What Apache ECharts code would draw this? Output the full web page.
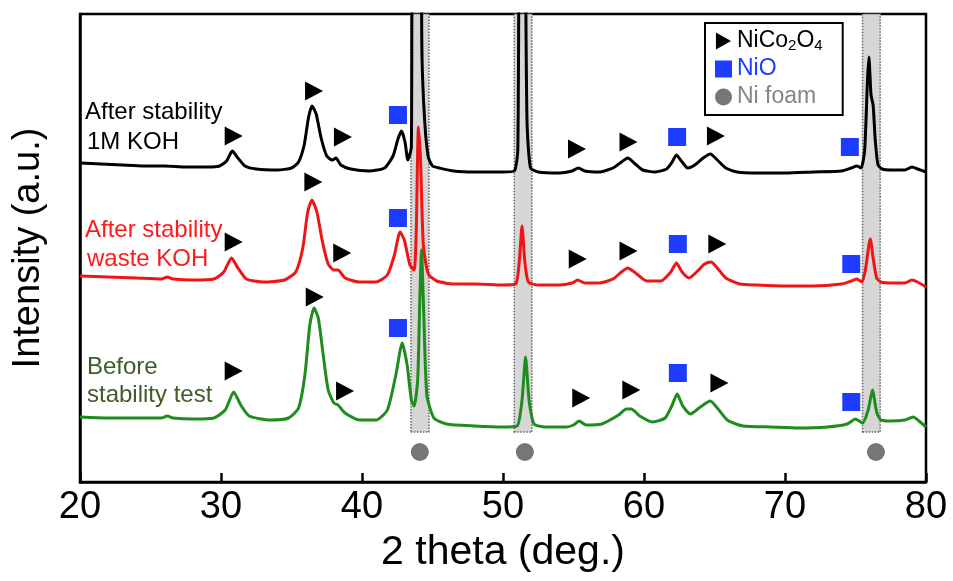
<!DOCTYPE html>
<html>
<head>
<meta charset="utf-8">
<script src="https://cdn.jsdelivr.net/npm/echarts@6/dist/echarts.min.js"></script>
<style>
html,body{margin:0;padding:0;background:#fff;}
#chart{width:953px;height:581px;}
</style>
</head>
<body>
<div id="chart"></div>
<script>
// ---- data (2 theta in degrees, intensity in arbitrary units) ----
const xTicks = [20, 30, 40, 50, 60, 70, 80];

const blackX = [20,21.5,23,24.5,26,27.5,29,29.9,30.4,30.8,31.2,31.7,32.5,34,35,35.5,35.9,36.2,36.45,36.75,37.1,37.5,37.9,38.15,38.5,39.2,40.5,41.6,42.2,42.55,42.8,43.05,43.25,43.5,43.62,44.1,44.25,44.45,44.7,45.0,45.5,46.5,48,50,50.8,51.05,51.2,51.5,51.7,51.95,52.5,54,54.9,55.35,55.8,56.8,57.8,58.4,58.85,59.3,59.9,60.8,61.6,62.0,62.3,62.65,63.1,63.6,64.2,64.7,65.2,65.8,66.6,68,70,72,74,74.7,75.1,75.4,75.65,75.85,75.95,76.1,76.25,76.4,76.6,76.9,77.5,78.5,79.0,79.4,80];
const blackY = [319,318,317,316,316,315,315,316,321,331,324,316,313,312,314,320,337,364,376,368,344,326,322,324,317,313,311,314,326,343,351,340,322,335,700,700,430,360,325,316,314,311,310,310,311,332,600,600,362,314,310,309,311,314,311,310,314,320,324,319,312,310,313,320,327,321,314,317,324,328,322,314,310,309,309,310,311,314,316,314,332,402,425,387,377,342,317,313,312,312,315,313,310];

const redX = [20,22,24,25.8,26.2,26.6,28,29.5,30.2,30.75,31.2,31.8,33,34.5,35.3,35.8,36.15,36.45,36.8,37.2,37.6,38.0,38.3,38.8,39.8,41,41.8,42.3,42.7,43.0,43.4,43.7,43.85,44.0,44.15,44.35,44.7,45.3,46.5,48,50,50.9,51.15,51.35,51.55,51.8,52.5,54,54.9,55.3,55.8,56.8,57.8,58.4,58.85,59.4,60.2,61.2,61.9,62.3,62.7,63.2,63.8,64.3,64.75,65.2,65.8,66.8,68,70,72,74,74.7,75.1,75.45,75.7,75.95,76.05,76.25,76.5,76.8,77.5,78.5,79.0,79.4,80];
const redY = [206,205,204,203,205,203,202,203,210,224,214,203,200,202,210,234,270,282,270,240,218,212,212,204,200,200,207,227,250,242,217,212,252,355,322,237,208,201,198,198,197,198,220,256,220,200,197,197,199,202,199,199,203,210,214,209,201,201,210,219,210,204,211,218,220,214,204,198,197,196,196,198,201,203,200,212,237,243,224,204,200,199,199,202,200,195];

const greenX = [20,22,24,25.8,26.2,26.6,28,29.5,30.3,30.9,31.4,32,33.5,34.8,35.5,35.95,36.3,36.6,36.9,37.25,37.6,38.0,38.3,38.8,39.8,41,41.8,42.4,42.85,43.2,43.5,43.7,43.95,44.1,44.22,44.35,44.6,45.1,46,48,50,51.0,51.35,51.6,51.85,52.2,53,54.5,55.0,55.4,55.9,57,58.2,58.75,59.1,59.7,60.6,61.5,62.0,62.35,62.75,63.3,64.0,64.7,65.2,65.9,67,69,71,73,74.4,75.0,75.5,75.9,76.2,76.5,76.8,77.5,78.5,79.1,79.5,80];
const greenY = [65,64,64,64,66,64,63,64,72,90,77,66,62,64,74,107,157,174,164,127,92,79,77,69,62,62,72,107,139,117,82,76,102,182,232,182,87,64,58,56,55,56,82,125,82,58,55,55,57,61,57,58,67,73,73,66,60,64,77,88,76,68,75,81,74,62,56,55,54,55,58,63,59,72,92,70,62,61,62,65,61,55];

// NiCo2O4 reflections (triangles), NiO (squares), Ni foam (circles)
const triBlack = [[30.9,346],[36.6,391],[38.65,345],[55.25,333],[58.9,340],[65.1,346]];
const triRed   = [[30.9,240],[36.55,300],[38.6,229],[55.3,223],[58.9,231],[65.2,238]];
const triGreen = [[30.9,111],[36.65,185],[38.8,91],[55.55,84],[59.1,92],[65.35,99]];
const sqBlack  = [[42.55,367],[62.35,345],[74.6,335]];
const sqRed    = [[42.55,264],[62.4,238],[74.7,218]];
const sqGreen  = [[42.55,154],[62.4,109],[74.7,80]];
const foamDots = [[44.1,30],[51.55,30],[76.45,30]];
const foamBands = [[43.47,44.75],[50.8,52.05],[75.5,76.75]];
const bandBottom = 50;

const yMax = 468;

const zip = (xs, ys) => xs.map((x, i) => [x, ys[i]]);
const FONT = '"Liberation Sans", Arial, Helvetica, sans-serif';
const triPath = 'path://M0,0L16,9L0,18Z';

const chart = echarts.init(document.getElementById('chart'), null, {renderer: 'canvas'});

const lineCommon = {type: 'line', symbol: 'none', smooth: 0.2};

const option = {
  animation: false,
  backgroundColor: '#fff',
  grid: {left: 80, right: 27, top: 14, bottom: 99, show: true, borderColor: '#000', borderWidth: 2.5, backgroundColor: 'transparent'},
  xAxis: {
    type: 'value', min: xTicks[0], max: xTicks[xTicks.length - 1], interval: 10,
    name: '2 theta (deg.)', nameLocation: 'middle', nameGap: 46,
    nameTextStyle: {fontSize: 41, color: '#000', fontFamily: FONT},
    axisLine: {lineStyle: {color: '#000', width: 2.5}},
    axisTick: {inside: true, length: 9, lineStyle: {color: '#000', width: 2.5}},
    axisLabel: {fontSize: 38, color: '#000', margin: 7, fontFamily: FONT},
    splitLine: {show: false}
  },
  yAxis: {
    type: 'value', min: 0, max: yMax,
    name: 'Intensity (a.u.)', nameLocation: 'middle', nameGap: 32, nameRotate: 90,
    nameTextStyle: {fontSize: 38, color: '#000', fontFamily: FONT},
    axisLine: {show: true, lineStyle: {color: '#000', width: 2.5}},
    axisTick: {show: false}, axisLabel: {show: false}, splitLine: {show: false}
  },
  legend: {
    orient: 'vertical', left: 705, top: 23,
    padding: [6, 20, 6, 10], itemGap: 4, itemWidth: 17, itemHeight: 17,
    borderColor: '#000', borderWidth: 2, backgroundColor: '#fff',
    data: [
      {name: 'NiCo2O4', icon: triPath, itemStyle: {opacity: 1}, textStyle: {color: '#000'}},
      {name: 'NiO', icon: 'rect', itemStyle: {opacity: 1}, textStyle: {color: '#1e3cff'}},
      {name: 'Ni foam', icon: 'circle', itemStyle: {opacity: 1}, textStyle: {color: '#858585'}}
    ],
    formatter: function (n) {
      if (n === 'NiCo2O4') return '{n|NiCo}{s|2}{n|O}{s|4}';
      return '{n|' + n + '}';
    },
    textStyle: {
      fontSize: 23, lineHeight: 24, fontFamily: FONT,
      rich: {
        n: {fontSize: 23, lineHeight: 24, fontFamily: FONT},
        s: {fontSize: 15, lineHeight: 14, verticalAlign: 'bottom', fontFamily: FONT}
      }
    }
  },
  graphic: [
    {type: 'text', left: 85, top: 100, silent: true, style: {text: 'After stability', font: '24px ' + FONT, fill: '#000'}},
    {type: 'text', left: 87, top: 130, silent: true, style: {text: '1M KOH', font: '24px ' + FONT, fill: '#000'}},
    {type: 'text', left: 85, top: 218, silent: true, style: {text: 'After stability', font: '24px ' + FONT, fill: '#ff1a1a'}},
    {type: 'text', left: 87, top: 247, silent: true, style: {text: 'waste KOH', font: '24px ' + FONT, fill: '#ff1a1a'}},
    {type: 'text', left: 87, top: 355, silent: true, style: {text: 'Before', font: '24px ' + FONT, fill: '#3d5c26'}},
    {type: 'text', left: 87, top: 383, silent: true, style: {text: 'stability test', font: '24px ' + FONT, fill: '#3d5c26'}}
  ],
  series: [
    {
      name: 'Ni foam', type: 'scatter', z: 1, symbol: 'circle', symbolSize: 18,
      itemStyle: {color: '#787575', opacity: 1},
      data: foamDots,
      markArea: {
        silent: true,
        itemStyle: {color: '#d6d6d6', borderColor: '#666', borderWidth: 1.5, borderType: 'dotted'},
        data: foamBands.map(b => [{xAxis: b[0], yAxis: bandBottom}, {xAxis: b[1], yAxis: yMax}])
      }
    },
    Object.assign({name: 'before', z: 2, data: zip(greenX, greenY), lineStyle: {color: '#1e8c1e', width: 3}, itemStyle: {color: '#1e8c1e'}}, lineCommon),
    Object.assign({name: 'waste', z: 3, data: zip(redX, redY), lineStyle: {color: '#f01414', width: 3}, itemStyle: {color: '#f01414'}}, lineCommon),
    Object.assign({name: '1M', z: 4, data: zip(blackX, blackY), lineStyle: {color: '#000', width: 3}, itemStyle: {color: '#000'}}, lineCommon),
    {name: 'NiCo2O4', type: 'scatter', z: 5, symbol: triPath, symbolSize: [18, 19], itemStyle: {color: '#000', opacity: 1},
      data: triBlack.concat(triRed, triGreen)},
    {name: 'NiO', type: 'scatter', z: 5, symbol: 'rect', symbolSize: 18, itemStyle: {color: '#1e3cff', opacity: 1},
      data: sqBlack.concat(sqRed, sqGreen)}
  ]
};
chart.setOption(option);
</script>
</body>
</html>
